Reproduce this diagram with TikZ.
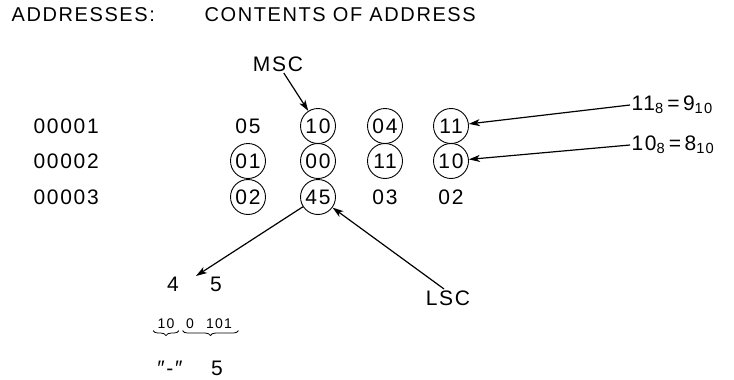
\documentclass[tikz,border=0pt]{standalone}
\usepackage{fontspec}
\setmainfont{Liberation Sans}[LetterSpace=8]
\usetikzlibrary{shapes,arrows,arrows.meta,positioning,decorations.pathreplacing}

\begin{document}
\begin{tikzpicture}[x=1pt, y=-1pt, >={Stealth[length=11pt, width=7pt, inset=3pt]}, line width=1.2pt]
    % Styles
    \tikzstyle{word} = [inner sep=1pt, font=\fontsize{21}{23}\selectfont]
    \tikzstyle{head} = [word, anchor=west, font=\fontsize{20}{22}\selectfont]
    \tikzstyle{cell} = [word, circle, draw, line width=0.9pt, minimum size=35pt, inner sep=0pt]
    \tikzstyle{bits} = [inner sep=1pt, font=\fontsize{14}{15}\selectfont]
    \tikzstyle{line} = [draw, ->]
    \tikzstyle{brace} = [draw, line width=0.8pt, decorate, decoration={brace, mirror, amplitude=5pt}]

    \useasboundingbox (0,0) rectangle (734,380);

    % Headings
    \node [head] (addr) at (10,15) {ADDRESSES:};
    \node [head] (cont) at (203,15) {CONTENTS OF ADDRESS};

    % Addresses
    \node [word, anchor=west] (a1) at (32,126) {00001};
    \node [word, anchor=west] (a2) at (32,161) {00002};
    \node [word, anchor=west] (a3) at (32,197) {00003};

    % Contents, row by row
    \node [word] (w11) at (248,126) {05};
    \node [cell] (w12) at (318,126) {10};
    \node [cell] (w13) at (385,126) {04};
    \node [cell] (w14) at (451,126) {11};

    \node [cell] (w21) at (248,161) {01};
    \node [cell] (w22) at (318,161) {00};
    \node [cell] (w23) at (385,161) {11};
    \node [cell] (w24) at (451,161) {10};

    \node [cell] (w31) at (248,197) {02};
    \node [cell] (w32) at (318,197) {45};
    \node [word] (w33) at (385,197) {03};
    \node [word] (w34) at (451,197) {02};

    % Labels
    \node [word] (msc) at (278,64) {MSC};
    \node [word] (lsc) at (448,298) {LSC};
    \node [word, anchor=west] (e1) at (630,105) {11\textsubscript{8}\,=\,9\textsubscript{10}};
    \node [word, anchor=west] (e2) at (630,145) {10\textsubscript{8}\,=\,8\textsubscript{10}};

    % Split of 45
    \node [word] (d4) at (173,284) {4};
    \node [word] (d5) at (216,284) {5};
    \coordinate (tip4) at (196,276);
    \node [bits] (b10) at (166,324) {10};
    \node [bits] (b0) at (190,324) {0};
    \node [bits] (b101) at (219,324) {101};
    \node [word] (q) at (170,368) {″-″};
    \node [word] (d5b) at (217,368) {5};

    % Arrows
    \path [line] (msc) -- (w12);
    \path [line] (e1.west) -- (w14);
    \path [line] (e2.west) -- (w24);
    \path [line] (w32) -- (tip4);
    \path [line] ([xshift=-4pt]lsc.north) -- (w32);

    % Braces
    \draw [brace] ([xshift=-3pt]b10.south west) -- ([xshift=3pt]b10.south east);
    \draw [brace] ([xshift=-2pt]b0.south west) -- ([xshift=5pt]b101.south east);

\end{tikzpicture}
\end{document}
